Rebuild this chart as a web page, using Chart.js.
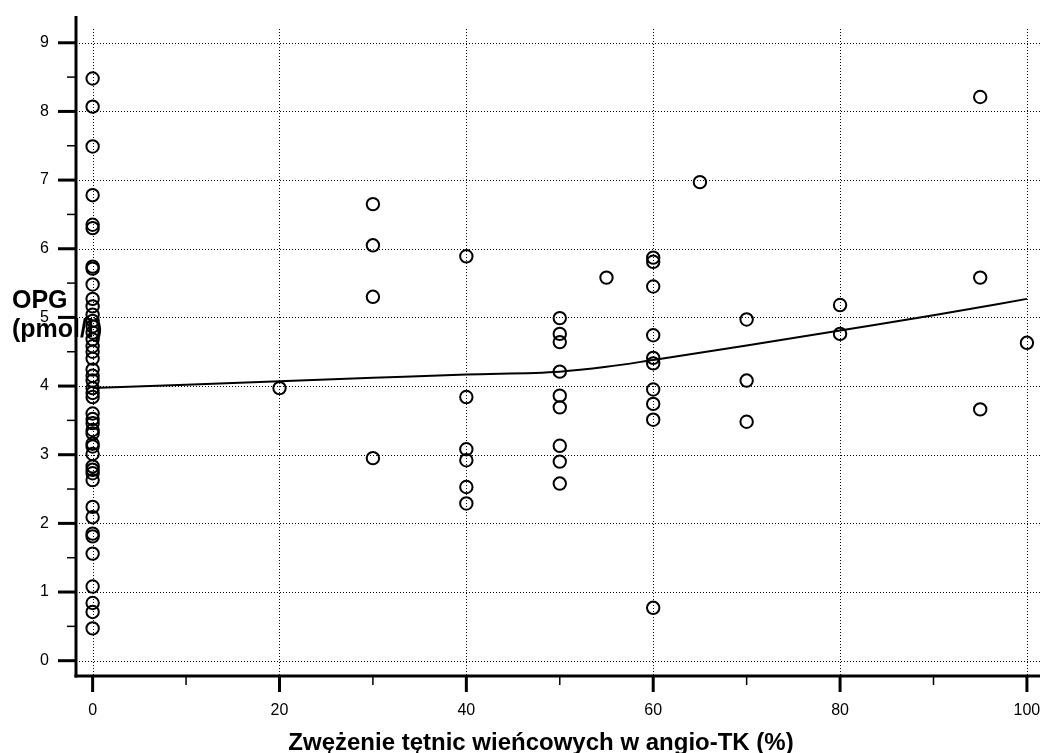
<!DOCTYPE html>
<html>
<head>
<meta charset="utf-8">
<script src="https://cdn.jsdelivr.net/npm/chart.js@4/dist/chart.umd.min.js"></script>
<style>
  html, body { margin: 0; padding: 0; background: #fff; }
  #wrap { width: 1040px; height: 753px; }
</style>
</head>
<body>
<div id="wrap"><canvas id="opgChart" width="1040" height="753"></canvas></div>
<script>
// stopień zwężenia (%) i zmierzone wartości OPG (pmol/l) w każdej grupie
const stenosisLevels = [0, 20, 30, 40, 50, 55, 60, 65, 70, 80, 95, 100];
const opgAt0 = [8.48, 8.07, 7.49, 6.78, 6.35, 6.30, 5.74, 5.71, 5.48, 5.27, 5.16, 5.04,
  4.95, 4.87, 4.78, 4.68, 4.58, 4.50, 4.40, 4.24, 4.15, 4.08, 3.97, 3.90, 3.84, 3.60,
  3.52, 3.46, 3.36, 3.31, 3.16, 3.12, 3.01, 2.83, 2.78, 2.73, 2.63, 2.24, 2.09, 1.85,
  1.81, 1.56, 1.08, 0.84, 0.71, 0.47];
const opgAt20 = [3.97];
const opgAt30 = [6.65, 6.05, 5.30, 2.95];
const opgAt40 = [5.89, 3.84, 3.08, 2.92, 2.53, 2.29];
const opgAt50 = [4.99, 4.76, 4.64, 4.21, 3.86, 3.69, 3.13, 2.90, 2.58];
const opgAt55 = [5.58];
const opgAt60 = [5.87, 5.81, 5.45, 4.74, 4.41, 4.33, 3.95, 3.74, 3.51, 0.77];
const opgAt65 = [6.97];
const opgAt70 = [4.97, 4.08, 3.48];
const opgAt80 = [5.18, 4.76];
const opgAt95 = [8.21, 5.58, 3.66];
const opgAt100 = [4.63];
const opgGroups = [opgAt0, opgAt20, opgAt30, opgAt40, opgAt50, opgAt55,
  opgAt60, opgAt65, opgAt70, opgAt80, opgAt95, opgAt100];

// wygładzona krzywa trendu
const trendX = [0, 10, 20, 30, 40, 50, 55, 60, 70, 80, 90, 100];
const trendY = [3.97, 4.02, 4.07, 4.12, 4.17, 4.21, 4.28, 4.38, 4.59, 4.81, 5.03, 5.27];

// podziałki osi
const xMajor = [0, 20, 40, 60, 80, 100];
const xMinor = [10, 30, 50, 70, 90];
const yMajor = [0, 1, 2, 3, 4, 5, 6, 7, 8, 9];
const yMinor = [0.5, 1.5, 2.5, 3.5, 4.5, 5.5, 6.5, 7.5, 8.5];

const xTitle = 'Zwężenie tętnic wieńcowych w angio-TK (%)';
const yTitle = ['OPG', '(pmol/l)'];

const FONT = 'Liberation Sans, Arial, Helvetica, sans-serif';

const points = [];
stenosisLevels.forEach((s, i) => {
  opgGroups[i].forEach(v => points.push({ x: s, y: v }));
});
const trend = trendX.map((x, i) => ({ x, y: trendY[i] }));

// siatka kropkowana, osie i kreski podziałki
const framePlugin = {
  id: 'frame',
  beforeDatasetsDraw(chart) {
    const { ctx, chartArea: a, scales: { x, y } } = chart;
    const seg = (x1, y1, x2, y2) => {
      ctx.beginPath(); ctx.moveTo(x1, y1); ctx.lineTo(x2, y2); ctx.stroke();
    };
    ctx.save();
    ctx.strokeStyle = '#000';
    ctx.lineWidth = 1;
    ctx.setLineDash([1, 2]);
    yMajor.forEach(v => {
      const py = Math.round(y.getPixelForValue(v)) + 0.5;
      seg(a.left, py, a.right, py);
    });
    const gridTop = y.getPixelForValue(9.2);
    xMajor.forEach(v => {
      const px = Math.round(x.getPixelForValue(v)) + 0.5;
      seg(px, gridTop, px, a.bottom);
    });
    ctx.setLineDash([]);

    // osie
    ctx.lineWidth = 3;
    seg(a.left, a.top, a.left, a.bottom + 1.5);
    seg(a.left - 1.5, a.bottom, a.right, a.bottom);

    // kreski główne
    yMajor.forEach(v => {
      const py = y.getPixelForValue(v);
      seg(a.left - 18, py, a.left, py);
    });
    xMajor.forEach(v => {
      const px = x.getPixelForValue(v);
      seg(px, a.bottom, px, a.bottom + 16);
    });
    // kreski pomocnicze
    ctx.lineWidth = 1.5;
    yMinor.forEach(v => {
      const py = y.getPixelForValue(v);
      seg(a.left - 9, py, a.left, py);
    });
    xMinor.forEach(v => {
      const px = x.getPixelForValue(v);
      seg(px, a.bottom, px, a.bottom + 9);
    });
    ctx.restore();
  },
  afterDraw(chart) {
    const { ctx } = chart;
    ctx.save();
    ctx.fillStyle = '#000';
    ctx.textBaseline = 'alphabetic';
    ctx.font = 'bold 24px ' + FONT;
    ctx.textAlign = 'center';
    ctx.fillText(xTitle, 541, 750);
    ctx.font = 'bold 25px ' + FONT;
    ctx.textAlign = 'left';
    ctx.fillText(yTitle[0], 12, 308);
    ctx.fillText(yTitle[1], 12, 337);
    ctx.restore();
  }
};

new Chart(document.getElementById('opgChart'), {
  type: 'scatter',
  data: {
    datasets: [
      {
        type: 'line',
        data: trend,
        borderColor: '#000',
        borderWidth: 2,
        pointRadius: 0,
        cubicInterpolationMode: 'monotone',
        fill: false,
        order: 2
      },
      {
        data: points,
        pointRadius: 6.2,
        pointBorderWidth: 2,
        borderColor: '#000',
        backgroundColor: 'rgba(0,0,0,0)',
        order: 1
      }
    ]
  },
  options: {
    responsive: false,
    animation: false,
    events: [],
    layout: { autoPadding: false, padding: { top: 16, right: 0, bottom: 0, left: 0 } },
    plugins: { legend: { display: false }, tooltip: { enabled: false } },
    scales: {
      x: {
        type: 'linear',
        min: -1.78,
        max: 101.4,
        afterBuildTicks: s => { s.ticks = xMajor.map(v => ({ value: v })); },
        afterFit: s => { s.height = 77; s.paddingLeft = 0; s.paddingRight = 0; },
        grid: { display: false, drawTicks: false },
        border: { display: false },
        ticks: {
          color: '#000', font: { family: FONT, size: 16 },
          padding: 25, autoSkip: false, maxRotation: 0
        }
      },
      y: {
        type: 'linear',
        min: -0.223,
        max: 9.39,
        afterBuildTicks: s => { s.ticks = yMajor.map(v => ({ value: v })); },
        afterFit: s => { s.width = 76; s.paddingTop = 0; s.paddingBottom = 0; },
        grid: { display: false, drawTicks: false },
        border: { display: false },
        ticks: {
          color: '#000', font: { family: FONT, size: 16 },
          padding: 27, autoSkip: false
        }
      }
    }
  },
  plugins: [framePlugin]
});
</script>
</body>
</html>
